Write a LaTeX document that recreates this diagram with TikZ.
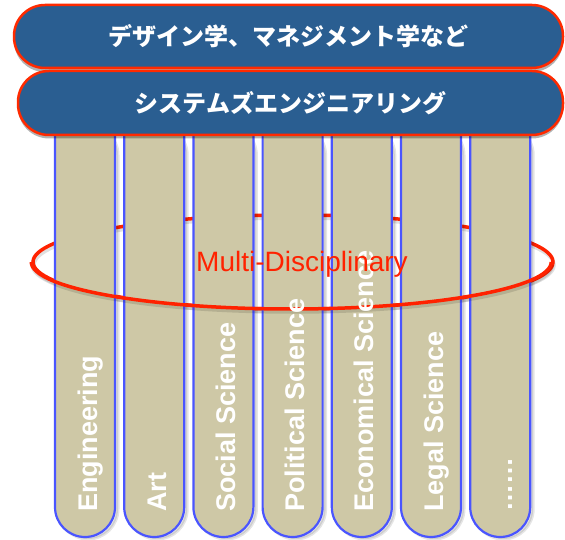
\documentclass[tikz,border=0pt]{standalone}
\usepackage{fontspec}
\setmainfont{Liberation Sans}
\newfontfamily\jp{Noto Sans CJK JP}
\usetikzlibrary{shapes.geometric}
\definecolor{boxblue}{HTML}{2A5E91}
\definecolor{boxred}{HTML}{FF2A00}
\definecolor{colfill}{HTML}{CEC8A6}
\definecolor{colblue}{HTML}{4A55FF}
\definecolor{ellred}{HTML}{FF2200}
\tikzset{
  topbox/.style={rectangle, rounded corners=31pt, minimum height=63pt, inner sep=0pt,
    fill=boxblue, draw=boxred, line width=2.5pt, text=white,
    font=\jp\bfseries\fontsize{24}{24}\selectfont},
  boxshadow/.style={rectangle, rounded corners=31pt, minimum height=63pt, inner sep=0pt,
    fill=black, opacity=.3},
  colshape/.style={fill=colfill, draw=colblue, line width=2.2pt, rounded corners=30pt},
  colshadow/.style={fill=black, draw=black, line width=3pt, opacity=.1, rounded corners=30pt},
  collabel/.style={text=white, font=\bfseries\fontsize{27}{27}\selectfont, inner sep=0pt,
    anchor=base west, rotate=90},
  ellline/.style={draw=ellred, line width=3.5pt},
}
\begin{document}
\begin{tikzpicture}[x=1pt,y=-1pt]
\useasboundingbox (0,0) rectangle (565,540);
% ellipse (back half, hidden by columns)
\node[ellipse, draw=black, opacity=.12, line width=3.5pt, minimum width=520pt, minimum height=94pt, inner sep=0pt] (ellsh) at (294,265) {};
\node[ellipse, ellline, minimum width=520pt, minimum height=94pt, inner sep=0pt] (ell) at (293,262) {};
% columns
\foreach \i in {0,...,6} {
  \pgfmathsetmacro\xl{55+69.2*\i}
  \pgfmathsetmacro\xr{\xl+60}
  \fill[colshadow] (\xl+3,125) -- (\xl+3,539) -- (\xr+3,539) -- (\xr+3,125) -- cycle;
  \filldraw[colshape] (\xl,125) -- (\xl,537) -- (\xr,537) -- (\xr,125);
}
% ellipse front half
\draw[draw=black, opacity=.12, line width=3.5pt] (ellsh.west) arc[start angle=180, end angle=0, x radius=260, y radius=47];
\draw[ellline] (ell.west) arc[start angle=180, end angle=0, x radius=260, y radius=47];
% column labels
\foreach \i/\txt in {0/Engineering,1/Art,2/Social Science,3/Political Science,4/Economical Science,5/Legal Science,6/……} {
  \pgfmathsetmacro\xc{55+69.2*\i+30+12}
  \node[collabel] (c\i) at (\xc,512) {\txt};
}
% top boxes
\node[boxshadow, minimum width=549pt] (b1s) at (288.5,40.5) {};
\node[topbox, minimum width=549pt] (b1) at (288.5,36.5) {デザイン学、マネジメント学など};
\node[boxshadow, minimum width=545pt] (b2s) at (290.5,107) {};
\node[topbox, minimum width=545pt, minimum height=64pt] (b2) at (290.5,103) {システムズエンジニアリング};
% label
\node[text=ellred, font=\fontsize{28}{28}\selectfont, inner sep=0pt, anchor=base] (md) at (302,271) {Multi-Disciplinary};
\end{tikzpicture}
\end{document}
